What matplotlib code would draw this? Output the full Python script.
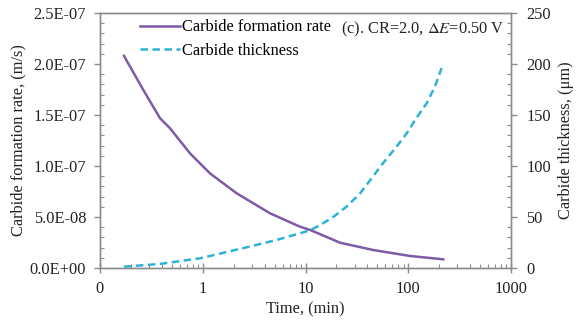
import matplotlib.pyplot as plt
from matplotlib.ticker import AutoMinorLocator, FuncFormatter, LogLocator, FixedLocator
import numpy as np

plt.rcParams['font.family'] = ['Liberation Serif', 'DejaVu Serif']
plt.rcParams['mathtext.fontset'] = 'stix'

# carbide formation rate (m/s) vs time (min)
rate_time = [0.171, 0.264, 0.384, 0.48, 0.75, 1.175, 2.14, 4.52, 8.83, 11.1, 21.7, 45.7, 104, 219]
rate_vals = [2.08e-7, 1.745e-7, 1.468e-7, 1.37e-7, 1.125e-7, 0.928e-7, 0.732e-7, 0.536e-7, 0.405e-7,
             0.373e-7, 0.248e-7, 0.176e-7, 0.118e-7, 0.085e-7]

# carbide thickness (um) vs time (min)
thick_time = [0.171, 0.384, 0.94, 2.48, 5.25, 8.8, 11.1, 13.8, 18.6, 25, 33.9, 44, 57, 77, 96.6, 120, 151, 182, 211]
thick_vals = [1.3, 4.0, 9.5, 19.5, 27.5, 34.0, 37.0, 42.0, 50.0, 60.0, 73.0, 88.0, 103.0, 119.0, 132.0, 147.0,
              161.5, 178.0, 196.0]

xticks = [0.1, 1, 10, 100, 1000]
xtick_labels = ['0', '1', '10', '100', '1000']

purple = '#7d5ba6'
cyan = '#2eb3d6'
spine_c = '#8c8c8c'
txt_c = '#222222'
fs = 11.8

fig = plt.figure(figsize=(5.82, 3.24), dpi=100)
ax = fig.add_axes([100 / 582, 1 - 268 / 324, 411 / 582, 255 / 324])
ax2 = ax.twinx()

l1, = ax.plot(rate_time, rate_vals, color=purple, lw=1.8, label='Carbide formation rate')
l2, = ax2.plot(thick_time, thick_vals, color=cyan, lw=1.8, ls=(0, (3, 1.8)), label='Carbide thickness')

ax.set_xscale('log')
ax.set_xlim(0.1, 1000)
ax.set_ylim(0, 2.5e-7)
ax2.set_ylim(0, 250)

ax.xaxis.set_major_locator(FixedLocator(xticks))
ax.set_xticklabels(xtick_labels)
ax.xaxis.set_minor_locator(LogLocator(base=10, subs=np.arange(2, 10)))
ax.xaxis.set_minor_formatter(FuncFormatter(lambda v, p: ''))
ax.set_yticks(np.arange(0, 2.51e-7, 0.5e-7))
ax.yaxis.set_major_formatter(FuncFormatter(lambda v, p: f'{v:.1E}'))
ax.yaxis.set_minor_locator(AutoMinorLocator(5))
ax2.set_yticks(np.arange(0, 251, 50))
ax2.yaxis.set_minor_locator(AutoMinorLocator(5))

for a in (ax, ax2):
    for s in a.spines.values():
        s.set_color(spine_c)
        s.set_linewidth(1.0)
    a.tick_params(which='major', length=4, width=1, color=spine_c, labelsize=fs, labelcolor=txt_c)
    a.tick_params(which='minor', length=3, width=0.8, color=spine_c, direction='in')
ax.tick_params(axis='x', which='major', direction='inout', length=7, pad=6)
ax.tick_params(axis='x', which='minor', direction='in', length=3)
ax.tick_params(axis='y', which='major', direction='out', pad=6)
ax2.tick_params(axis='y', which='major', direction='out', pad=7)

ax.set_xlabel('Time, (min)', fontsize=fs, color=txt_c, labelpad=3)
ax.set_ylabel('Carbide formation rate, (m/s)', fontsize=fs, color=txt_c, labelpad=2)
ax2.set_ylabel('Carbide thickness, (μm)', fontsize=fs, color=txt_c, labelpad=5)

ax.legend(handles=[l1, l2], loc='upper left', bbox_to_anchor=(0.07, 1.02), frameon=False,
          fontsize=fs, handlelength=2.4, handletextpad=0.15, labelspacing=0.45, borderaxespad=0.3)
ax.text(0.985, 0.935, r'(c). CR=2.0, $\Delta E$=0.50 V', transform=ax.transAxes,
        ha='right', va='center', fontsize=fs, color=txt_c)

fig.savefig('out.png', dpi=100)
